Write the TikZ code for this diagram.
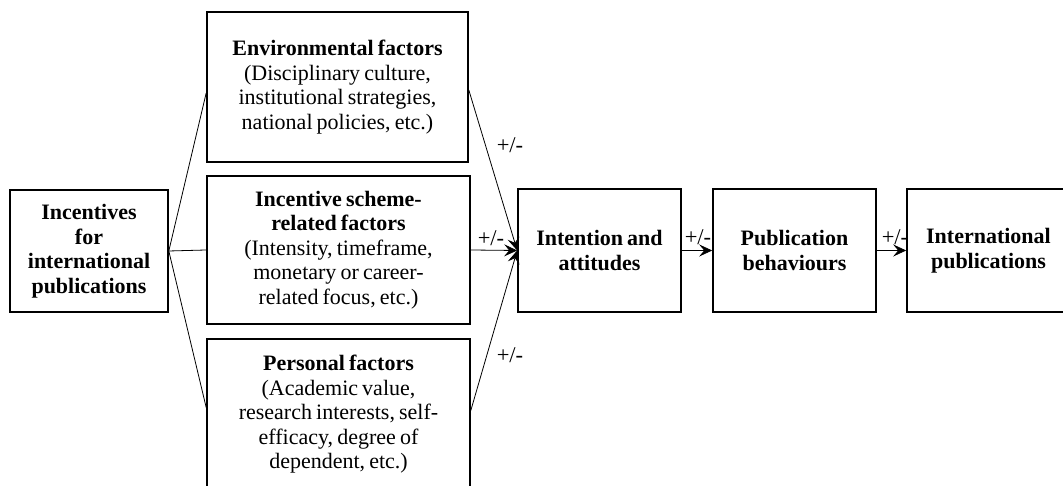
\documentclass[tikz,border=0pt]{standalone}
\usepackage{fontspec}
\setmainfont[WordSpace=0.75]{Liberation Serif}
\usetikzlibrary{arrows.meta}

\begin{document}
\begin{tikzpicture}[x=1pt,y=1pt,
  box/.style={draw, line width=1.6pt, align=center, inner sep=0pt,
    font=\fontsize{22}{24.5}\selectfont},
  link/.style={line width=0.8pt},
  arr/.style={link, -{Stealth[length=13pt,width=12pt,inset=5pt]}},
  sign/.style={font=\fontsize{22.5}{22}\selectfont, inner sep=1pt}]
\useasboundingbox (0,0) rectangle (1063,486);
\clip (0,0) rectangle (1063,486);

% boxes
\node[box, minimum width=158, minimum height=122] (inc) at (89,235)
  {\textbf{Incentives}\\\textbf{for}\\\textbf{international}\\\textbf{publications}};
\node[box, minimum width=261, minimum height=150] (env) at (337.5,399)
  {\textbf{Environmental factors}\\(Disciplinary culture,\\institutional strategies,\\national policies, etc.)};
\node[box, minimum width=263, minimum height=148] (sch) at (338.5,236)
  {\textbf{Incentive scheme-}\\\textbf{related factors}\\(Intensity, timeframe,\\monetary or career-\\related focus, etc.)};
\node[box, minimum width=263, minimum height=151] (per) at (338.5,71.5)
  {\textbf{Personal factors}\\(Academic value,\\research interests, self-\\efficacy, degree of\\dependent, etc.)};
\node[box, minimum width=163, minimum height=123] (int) at (599.5,235.5)
  {\textbf{Intention and}\\\textbf{attitudes}};
\node[box, minimum width=163, minimum height=123] (pub) at (794.5,235.5)
  {\textbf{Publication}\\\textbf{behaviours}};
\node[box, minimum width=163, minimum height=123] (intl) at (988.5,235.5)
  {\textbf{International}\\\textbf{publications}};

% fan-out from the incentives
\draw[link] (inc.east) -- ([yshift=-6pt]env.west);
\draw[link] (inc.east) -- (sch.west);
\draw[link] (inc.east) -- ([yshift=7pt]per.west);

% influences on intention and attitudes
\draw[arr] ([yshift=-3pt]env.east) -- (int.west);
\draw[arr] (sch.east) -- (int.west);
\draw[arr] ([yshift=4pt]per.east) -- (int.west);

% chain towards publications
\draw[arr] (int.east) -- (pub.west);
\draw[arr] (pub.east) -- (intl.west);

% signs of the effects
\node[sign] (s1) at (510,341) {+/-};
\node[sign] (s2) at (491,248) {+/-};
\node[sign] (s3) at (510,131) {+/-};
\node[sign] (s4) at (698,249) {+/-};
\node[sign] (s5) at (895,249) {+/-};
\end{tikzpicture}
\end{document}
